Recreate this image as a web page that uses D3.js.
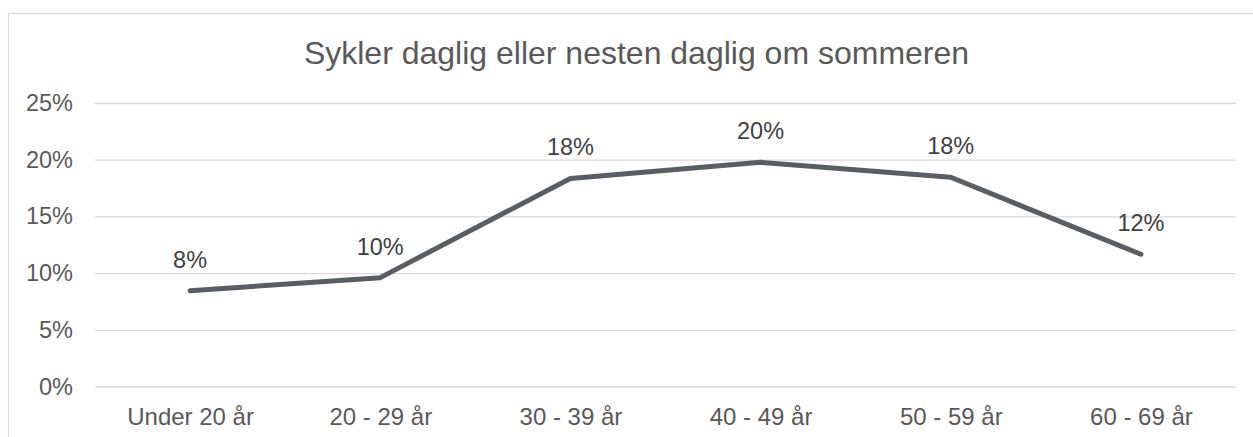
<!DOCTYPE html>
<html>
<head>
<meta charset="utf-8">
<script src="https://cdn.jsdelivr.net/npm/d3@7"></script>
<style>
  body { margin: 0; background: #fff; }
  svg { display: block; font-family: "Liberation Sans", Arial, sans-serif; }
</style>
</head>
<body>
<div id="svg-container"></div>
<script>
// data
const title = "Sykler daglig eller nesten daglig om sommeren";
const categories = ["Under 20 år", "20 - 29 år", "30 - 39 år", "40 - 49 år", "50 - 59 år", "60 - 69 år"];
const values = [0.0845, 0.096, 0.1835, 0.1977, 0.1845, 0.1166];
const yTicks = [0, 0.05, 0.1, 0.15, 0.2, 0.25];

// svg
const width = 1253;
const height = 437;
const svg = d3.select("#svg-container").append("svg")
  .attr("width", width)
  .attr("height", height);

const plot = { left: 95, right: 1236, top: 103, bottom: 386.5 };

// chart border
svg.append("rect")
  .attr("x", 8.5)
  .attr("y", 13.5)
  .attr("width", 1262)
  .attr("height", 440)
  .attr("fill", "#fff")
  .attr("stroke", "#d9d9d9")
  .attr("stroke-width", 1.2);

// scale
const xScale = d3.scalePoint().domain(categories).range([plot.left, plot.right]).padding(0.5);
const yScale = d3.scaleLinear().domain([0, 0.25]).range([plot.bottom, plot.top]);
const pct = d3.format(".0%");

// axis
const yAxis = d3.axisLeft(yScale)
  .tickValues(yTicks)
  .tickFormat(pct)
  .tickSize(-(plot.right - plot.left))
  .tickPadding(22);

const xAxis = d3.axisBottom(xScale)
  .tickSize(0)
  .tickPadding(21);

svg.append("g")
  .attr("class", "y-axis")
  .attr("transform", `translate(${plot.left},0)`)
  .call(yAxis)
  .call((g) => g.select(".domain").remove())
  .call((g) => g.selectAll("line").attr("stroke", "#d9d9d9").attr("stroke-width", 1.3))
  .call((g) => g.selectAll("text").attr("fill", "#595959").style("font-size", "23.5px"));

svg.append("g")
  .attr("class", "x-axis")
  .attr("transform", `translate(0,${plot.bottom})`)
  .call(xAxis)
  .call((g) => g.select(".domain").remove())
  .call((g) => g.selectAll("text").attr("fill", "#595959").style("font-size", "24px"));

// title
svg.append("text")
  .attr("x", 636.5)
  .attr("y", 63.5)
  .attr("text-anchor", "middle")
  .attr("fill", "#595959")
  .style("font-size", "32px")
  .text(title);

// line
const line = d3.line()
  .x((d, i) => xScale(categories[i]))
  .y((d) => yScale(d));

svg.append("path")
  .datum(values)
  .attr("d", line)
  .attr("fill", "none")
  .attr("stroke", "#5a5e63")
  .attr("stroke-width", 5)
  .attr("stroke-linejoin", "round")
  .attr("stroke-linecap", "round");

// data labels
svg.selectAll(".label")
  .data(values)
  .join("text")
  .attr("class", "label")
  .attr("x", (d, i) => xScale(categories[i]))
  .attr("y", (d) => yScale(d) - 23)
  .attr("text-anchor", "middle")
  .attr("fill", "#404040")
  .style("font-size", "23.5px")
  .text((d) => pct(d));
</script>
</body>
</html>
